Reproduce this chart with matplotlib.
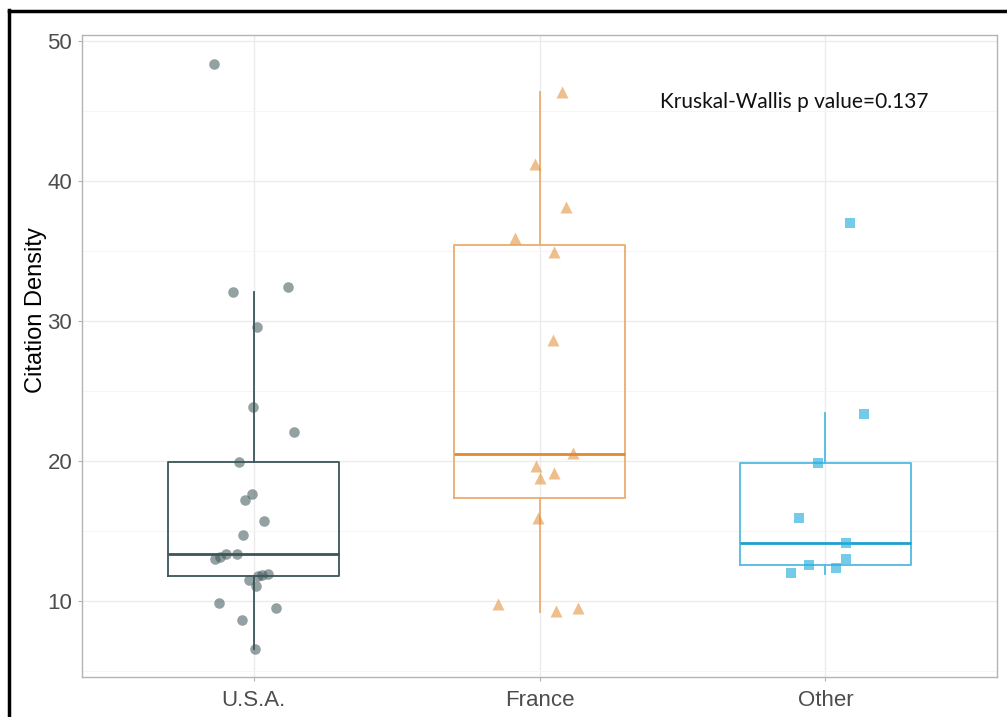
import matplotlib
matplotlib.use("Agg")
import matplotlib.pyplot as plt
from matplotlib.lines import Line2D
from matplotlib.ticker import MultipleLocator

# ---- data ----
categories = ["U.S.A.", "France", "Other"]

usa_values = [48.34, 32.43, 32.09, 29.57, 23.88, 22.05, 19.93, 17.62, 17.21, 15.74,
              14.71, 13.36, 13.34, 13.16, 13.02, 11.93, 11.88, 11.82, 11.50, 11.09,
              9.86, 9.48, 8.64, 6.55]
usa_jitter = [-0.137, 0.119, -0.071, 0.013, -0.002, 0.141, -0.051, -0.005, -0.031, 0.035,
              -0.036, -0.095, -0.059, -0.119, -0.136, 0.052, 0.028, 0.014, -0.016, 0.007,
              -0.122, 0.078, -0.042, 0.005]

france_values = [46.36, 41.24, 38.12, 35.96, 34.93, 28.64, 20.59, 19.63, 19.11, 18.77,
                 15.91, 9.76, 9.29, 9.50]
france_jitter = [0.077, -0.016, 0.092, -0.086, 0.049, 0.047, 0.118, -0.013, 0.050, 0.001,
                 -0.005, -0.144, 0.057, 0.135]

other_values = [36.98, 23.36, 19.86, 15.91, 14.14, 12.98, 12.55, 12.36, 11.98]
other_jitter = [0.087, 0.134, -0.026, -0.092, 0.073, 0.071, -0.057, 0.037, -0.121]

# box statistics (whisker low, Q1, median, Q3, whisker high)
box_whislo = [6.57, 9.21, 11.93]
box_q1 = [11.79, 17.36, 12.57]
box_med = [13.36, 20.50, 14.14]
box_q3 = [19.93, 35.43, 19.86]
box_whishi = [32.07, 46.36, 23.43]

annotation = "Kruskal-Wallis p value=0.137"
y_label = "Citation Density"

# ---- styling ----
line_colors = ["#3b5558", "#e08a30", "#1e9fd0"]
box_colors = ["#3b5558", "#e9ad70", "#52bbe0"]
point_colors = ["#3b5558", "#e08a30", "#2aaede"]
point_alpha = [0.55, 0.55, 0.65]
markers = ["o", "^", "s"]
msizes = [58, 75, 52]

plt.rcParams['font.family'] = ['Liberation Sans', 'DejaVu Sans']

fig = plt.figure(figsize=(10.07, 7.17), dpi=100)
ax = fig.add_axes([82/1007, 1-677/717, (997-82)/1007, (677-35)/717])

values = [usa_values, france_values, other_values]
jitters = [usa_jitter, france_jitter, other_jitter]

for i in range(3):
    stats = [dict(whislo=box_whislo[i], q1=box_q1[i], med=box_med[i],
                  q3=box_q3[i], whishi=box_whishi[i], label=categories[i])]
    ax.bxp(stats, positions=[i], widths=0.6, showfliers=False, showcaps=False,
           boxprops=dict(color=box_colors[i], linewidth=1.3),
           whiskerprops=dict(color=box_colors[i], linewidth=1.3),
           medianprops=dict(color=line_colors[i], linewidth=2.0),
           zorder=2)
    xs = [i + j for j in jitters[i]]
    ax.scatter(xs, values[i], marker=markers[i], s=msizes[i], color=point_colors[i],
               alpha=point_alpha[i], linewidths=0, zorder=3)

ax.set_xlim(-0.6, 2.6)
ax.set_ylim(4.57, 50.43)
ax.set_xticks(range(3))
ax.set_xticklabels(categories)
ax.yaxis.set_major_locator(MultipleLocator(10))
ax.yaxis.set_minor_locator(MultipleLocator(5))

ax.grid(True, which='major', color='#ebebeb', linewidth=1.0, zorder=0)
ax.grid(True, which='minor', axis='y', color='#f5f5f5', linewidth=0.7, zorder=0)
ax.set_axisbelow(True)

for sp in ax.spines.values():
    sp.set_color('#b3b3b3')
    sp.set_linewidth(1.0)

ax.tick_params(axis='both', which='major', length=3, color='#b3b3b3',
               labelsize=16, labelcolor='#4d4d4d', pad=4)
ax.tick_params(axis='y', which='minor', length=0)
ax.tick_params(axis='x', pad=6)

ax.set_ylabel(y_label, fontsize=17, color='black')
ax.yaxis.set_label_coords(-0.050, 0.572)
ax.yaxis.label.set_va('center')

ax.text(1.892, 45.67, annotation, ha='center', va='center', fontsize=15,
        family=['Lato', 'DejaVu Sans'], color='#111111')

# outer black frame (top and left visible)
fig.add_artist(Line2D([9/1007, 9/1007], [0, 1-10/717], transform=fig.transFigure,
                      color='black', linewidth=2.5))
fig.add_artist(Line2D([9/1007, 1.0], [1-11/717, 1-11/717], transform=fig.transFigure,
                      color='black', linewidth=2.5))

fig.savefig("out.png", dpi=100)
